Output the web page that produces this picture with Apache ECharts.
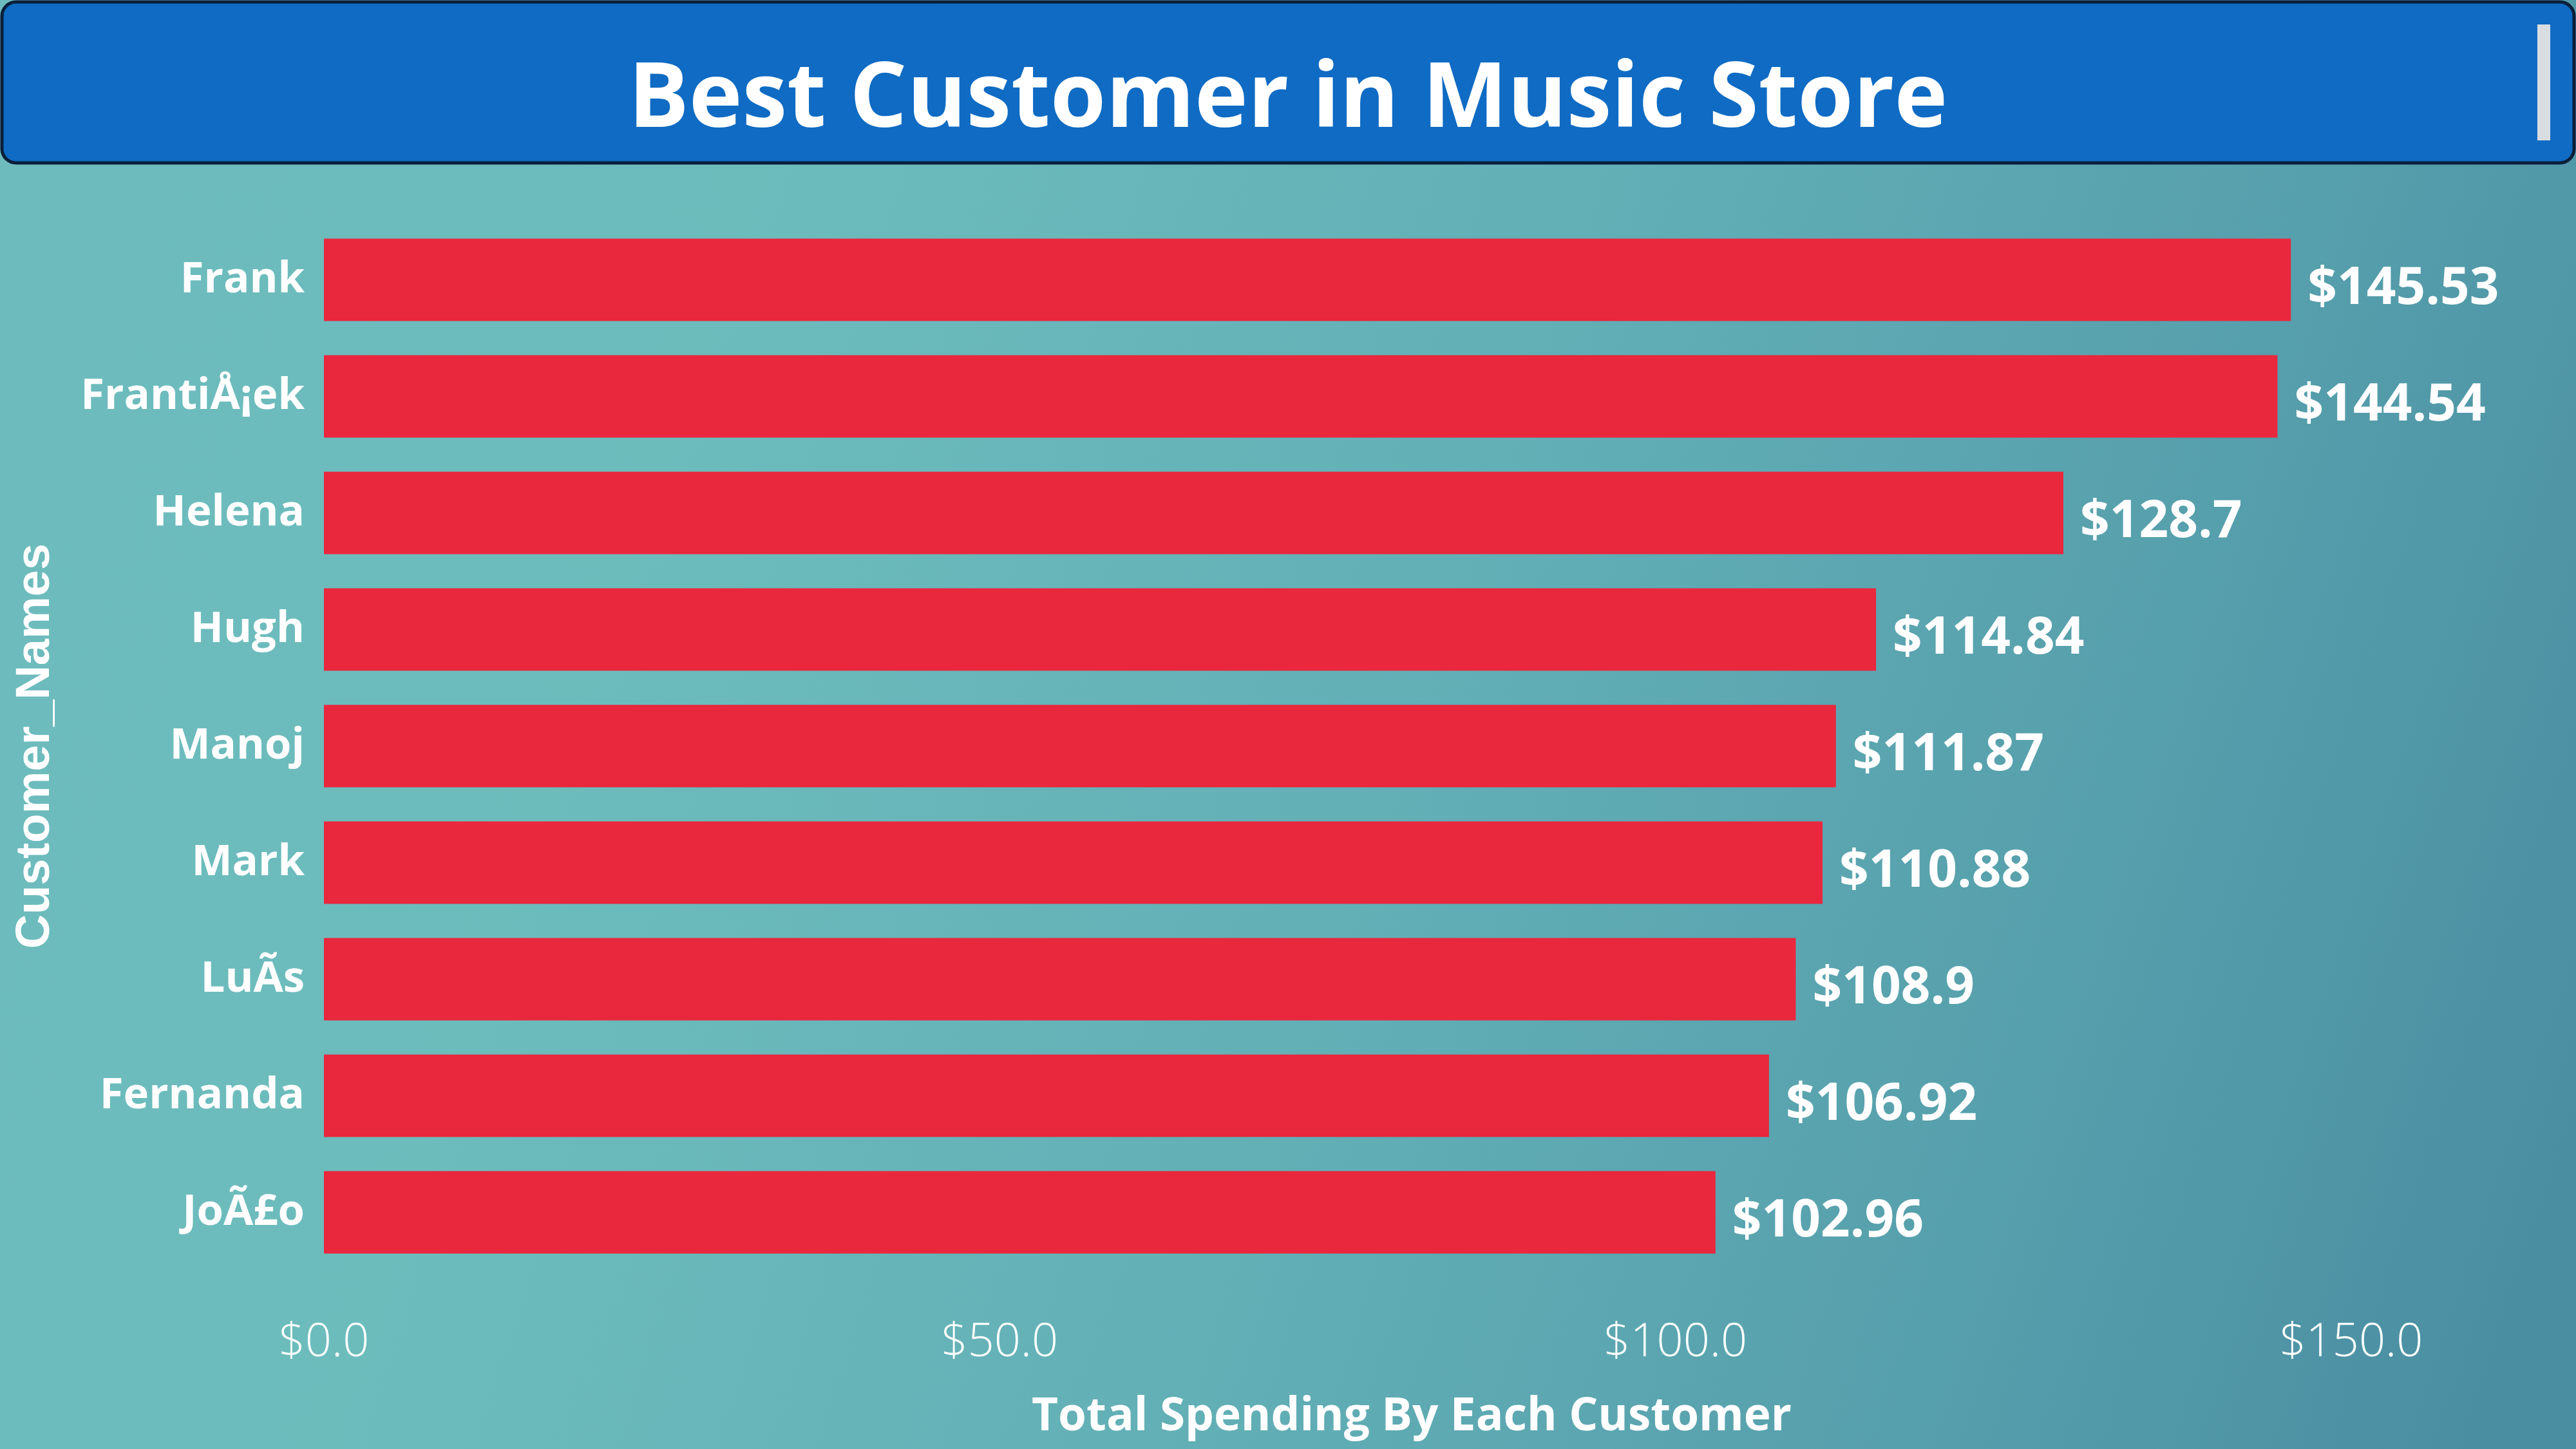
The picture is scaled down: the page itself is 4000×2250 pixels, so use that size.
<!DOCTYPE html>
<html>
<head>
<meta charset="utf-8">
<script src="https://cdn.jsdelivr.net/npm/echarts@6/dist/echarts.min.js"></script>
<style>
html,body{margin:0;padding:0;background:#5fa9b3;}
#chart{width:4000px;height:2250px;}
</style>
</head>
<body>
<div id="chart"></div>
<script>
const categories = ['Frank', 'Franti\u00C5\u00A1ek', 'Helena', 'Hugh', 'Manoj', 'Mark', 'Lu\u00C3s', 'Fernanda', 'Jo\u00C3\u00A3o'];
const spending = [145.53, 144.54, 128.7, 114.84, 111.87, 110.88, 108.9, 106.92, 102.96];
const xTicks = [0, 50, 100, 150];
const titleText = 'Best Customer in Music Store';
const xAxisName = 'Total Spending By Each Customer';
const yAxisName = 'Customer_Names';

const chart = echarts.init(document.getElementById('chart'), null, {renderer: 'canvas'});
const option = {
  backgroundColor: {
    type: 'linear', x: 0, y: 0.2, x2: 1, y2: 0.8,
    colorStops: [
      {offset: 0, color: '#6dbbbd'},
      {offset: 0.25, color: '#6dbcbc'},
      {offset: 0.55, color: '#62afb6'},
      {offset: 0.8, color: '#569fac'},
      {offset: 1, color: '#4a8ea2'}
    ]
  },
  animation: false,
  graphic: [
    {
      type: 'rect', z: 0,
      shape: {x: 3, y: 3, width: 3994, height: 250, r: 22},
      style: {fill: '#0f6bc3', stroke: '#0b1f3a', lineWidth: 5}
    },
    {
      type: 'rect', z: 1,
      shape: {x: 3940, y: 38, width: 20, height: 180},
      style: {fill: '#d9dde2'}
    }
  ],
  title: {
    text: titleText,
    left: 'center',
    top: 82,
    textStyle: {
      color: '#ffffff',
      fontSize: 140,
      fontWeight: 'bold',
      fontFamily: 'Open Sans'
    }
  },
  grid: {left: 503, right: 349, top: 344, bottom: 277, containLabel: false},
  xAxis: {
    type: 'value',
    min: 0, max: 150, interval: 50,
    splitLine: {show: false},
    axisLine: {show: false},
    axisTick: {show: false},
    axisLabel: {
      color: '#ffffff',
      fontSize: 72,
      fontWeight: 300,
      fontFamily: 'Open Sans',
      margin: 76,
      formatter: v => '$' + v.toFixed(1)
    },
    name: xAxisName,
    nameLocation: 'middle',
    nameGap: 192,
    nameTextStyle: {color: '#ffffff', fontSize: 71, fontWeight: 'bold', fontFamily: 'Open Sans', padding: [0, 0, 0, 230]}
  },
  yAxis: {
    type: 'category',
    data: categories,
    inverse: true,
    axisLine: {show: false},
    axisTick: {show: false},
    axisLabel: {
      color: '#ffffff',
      fontSize: 67,
      fontWeight: 'bold',
      fontFamily: 'Open Sans',
      margin: 30,
      padding: [22, 0, 0, 0]
    },
    name: yAxisName,
    nameLocation: 'middle',
    nameGap: 410,
    nameRotate: 90,
    nameTextStyle: {color: '#ffffff', fontSize: 74, fontWeight: 'bold', fontFamily: 'Liberation Sans'}
  },
  series: [{
    type: 'bar',
    data: spending,
    barWidth: 128,
    itemStyle: {color: '#e9273d'},
    label: {
      show: true,
      position: 'right',
      distance: 26,
      color: '#ffffff',
      fontSize: 80,
      fontWeight: 'bold',
      fontFamily: 'Open Sans',
      offset: [0, 15],
      formatter: p => '$' + p.value
    }
  }]
};
chart.setOption(option);
</script>
</body>
</html>
